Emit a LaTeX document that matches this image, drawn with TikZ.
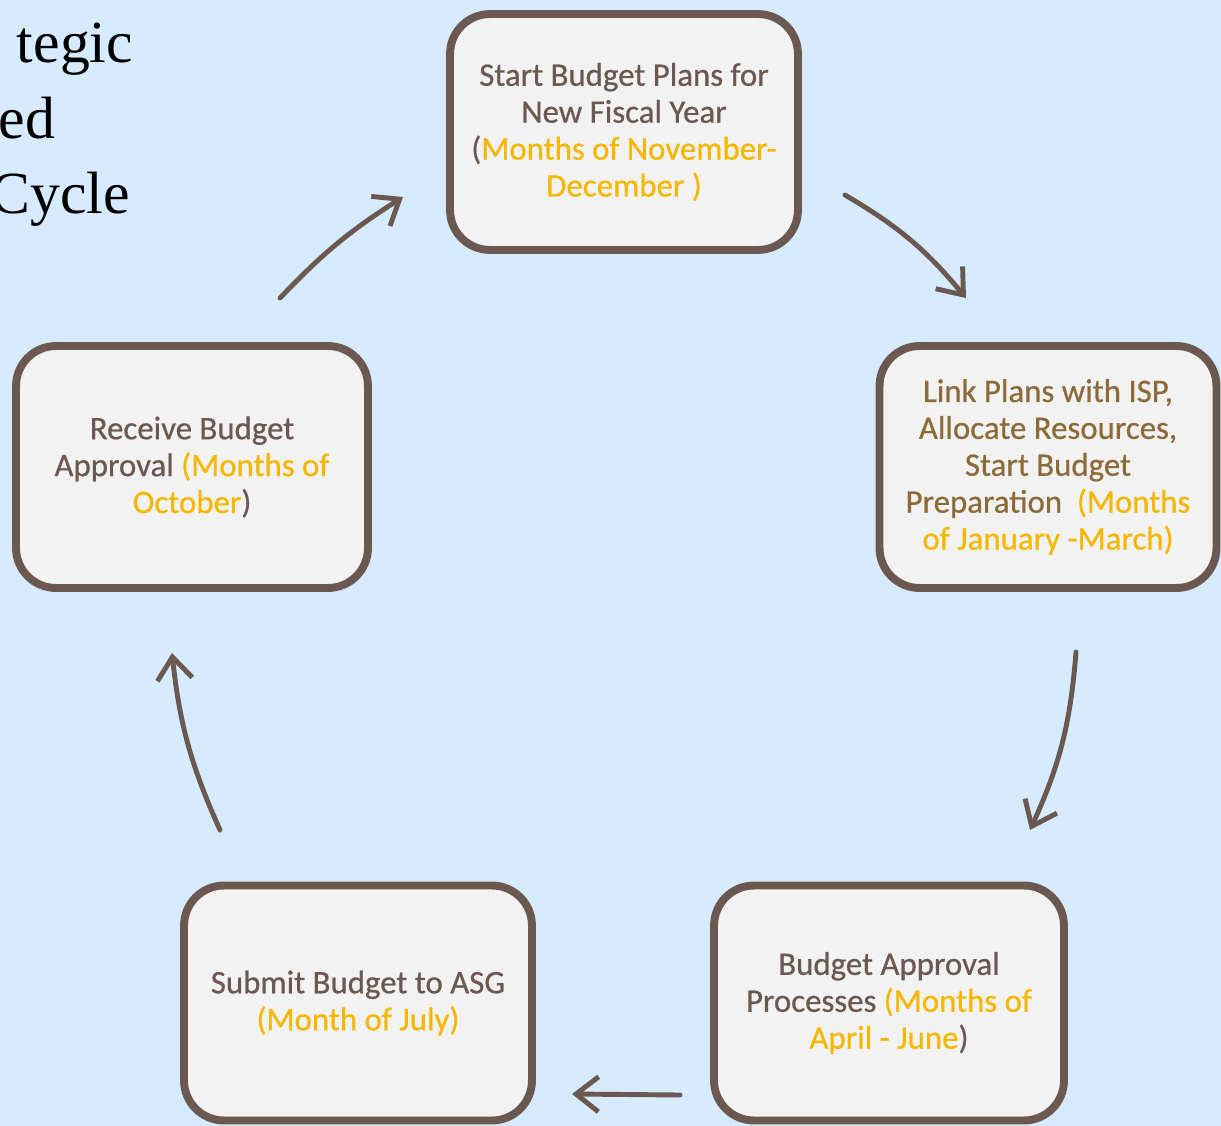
\documentclass[tikz,border=0pt]{standalone}
\usepackage{fontspec}
\setmainfont{Carlito}[FakeBold=0.6]
\newfontfamily\titlefont{Liberation Serif}
\usetikzlibrary{arrows.meta}
\definecolor{bgblue}{HTML}{D6EBFD}
\definecolor{boxfill}{HTML}{F2F2F2}
\definecolor{bbrown}{HTML}{6B5850}
\definecolor{olive}{HTML}{8C6B38}
\definecolor{yel}{HTML}{F5B700}
\newcommand{\yl}[1]{{\color{yel}#1}}

\begin{document}
\begin{tikzpicture}[x=0.02cm, y=-0.02cm, every node/.style = {shape = rectangle, rounded corners = 0.8cm, draw = bbrown, line width = 4.5pt, fill = boxfill, align = center, text = bbrown, inner sep = 0pt, font = \fontsize{18.7}{21}\selectfont},
  title/.style = {draw = none, fill = none, text = black, anchor = base east, font = \titlefont\fontsize{34}{38}\selectfont},
  brown edge/.style = {-{Straight Barb[length=0.45cm,width=0.7cm]}, line width = 2.8pt, line cap = round, bbrown}]
\useasboundingbox (0,0) rectangle (1221,1126);
\fill[bgblue] (0,0) rectangle (1221,1126);
\clip (0,0) rectangle (1221,1126);
\node[title] (t1) at (137,62) {tegic};
  \node[title] (t2) at (59,138) {ed};
  \node[title] (t3) at (134,213) {Cycle};
\node[minimum width = 6.96cm, minimum height = 4.72cm] (0;2) at (624,132) {Start Budget Plans for \\ New Fiscal Year \\ (\yl{Months of November-} \\ \yl{December )}};
  \node[minimum width = 6.74cm, minimum height = 4.84cm, text = olive] (1;1) at (1048,467) {Link Plans with ISP, \\ Allocate Resources, \\ Start Budget \\ Preparation~~\yl{(Months} \\ \yl{of January -March)}};
  \node[minimum width = 7.0cm, minimum height = 4.7cm] (1;-1) at (889,1003) {Budget Approval \\ Processes \yl{(Months of} \\ \yl{April - June})};
  \node[minimum width = 6.96cm, minimum height = 4.7cm] (-1;-1) at (358,1003) {Submit Budget to ASG \\ \yl{(Month of July)}};
  \node[minimum width = 7.04cm, minimum height = 4.84cm] (-1;1) at (192,467) {Receive Budget \\ Approval \yl{(Months of} \\ \yl{October})};
\coordinate (a1) at (280,298); \coordinate (a2) at (403,197);
  \coordinate (b1) at (845,195); \coordinate (b2) at (966,298);
  \coordinate (c1) at (1076,652); \coordinate (c2) at (1030,830);
  \coordinate (d1) at (680,1095); \coordinate (d2) at (572,1094);
  \coordinate (e1) at (220,830); \coordinate (e2) at (172,653);
\foreach \s/\t/\b in {a1/a2/7, b1/b2/10, c1/c2/10, d1/d2/0, e1/e2/9}
  { \draw[brown edge] (\s) to[bend left=\b] (\t); }
\end{tikzpicture}
\end{document}
